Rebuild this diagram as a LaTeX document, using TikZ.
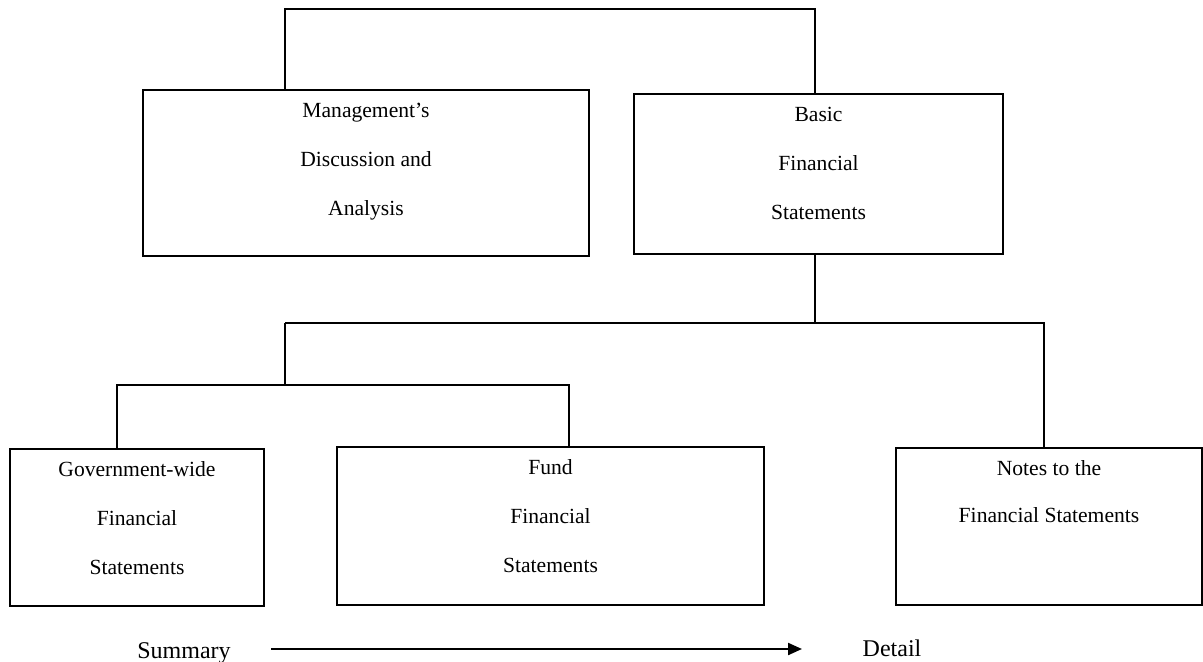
\documentclass[tikz,border=0pt]{standalone}
\usepackage{fontspec}
\setmainfont{Liberation Serif}
\usetikzlibrary{arrows.meta}
\tikzset{
  box/.style={draw, line width=1pt, inner sep=0pt, anchor=north west},
  boxtext/.style={anchor=north, align=center, inner sep=0pt, font=\fontsize{10.8}{24.5}\selectfont},
  conn/.style={line width=1pt},
  lab/.style={anchor=base, inner sep=0pt, font=\fontsize{12}{14}\selectfont},
  arr/.style={line width=1.1pt, -{Triangle[length=7pt,width=6pt]}}
}
\begin{document}
\begin{tikzpicture}[x=0.5pt,y=-0.5pt]
\useasboundingbox (0,0) rectangle (1203,662);
% boxes
\node[box, minimum width=223pt, minimum height=83pt] (mda) at (142,89) {};
\node[box, minimum width=184.5pt, minimum height=80pt] (basic) at (633,93) {};
\node[box, minimum width=127pt, minimum height=78.5pt] (gov) at (9,448) {};
\node[box, minimum width=213.5pt, minimum height=79pt] (fund) at (336,446) {};
\node[box, minimum width=153pt, minimum height=78.5pt] (notes) at (895,447) {};
% texts
\node[boxtext] (mdaT) at ([yshift=-7pt]mda.north) {Management’s\\Discussion and\\Analysis};
\node[boxtext] (basicT) at ([yshift=-7pt]basic.north) {Basic\\Financial\\Statements};
\node[boxtext] (govT) at ([yshift=-6.5pt]gov.north) {Government-wide\\Financial\\Statements};
\node[boxtext] (fundT) at ([yshift=-6.5pt]fund.north) {Fund\\Financial\\Statements};
\node[boxtext, font=\fontsize{10.8}{23.5}\selectfont] (notesT) at ([yshift=-6.5pt]notes.north) {Notes to the\\Financial Statements};
% connector coordinates
\coordinate (t1) at (285,9);
\coordinate (t2) at (815,9);
\coordinate (h1) at (285,323);
\coordinate (h2) at (815,323);
\coordinate (h3) at (1044,323);
\coordinate (g1) at (285,385);
\coordinate (g2) at (117,385);
\coordinate (g3) at (569,385);
% connectors
\draw[conn] (t1 |- mda.north) -- (t1) -- (t2) -- (t2 |- basic.north);
\draw[conn] (h2 |- basic.south) -- (h2);
\draw[conn] (h1) -- (h3) -- (h3 |- notes.north);
\draw[conn] (h1) -- (g1);
\draw[conn] (g2 |- gov.north) -- (g2) -- (g3) -- (g3 |- fund.north);
% bottom axis
\node[lab] (sum) at (184,658) {Summary};
\node[lab] (det) at (892,656) {Detail};
\coordinate (a1) at (271,649);
\coordinate (a2) at (802,649);
\draw[arr] (a1) -- (a2);
\end{tikzpicture}
\end{document}
